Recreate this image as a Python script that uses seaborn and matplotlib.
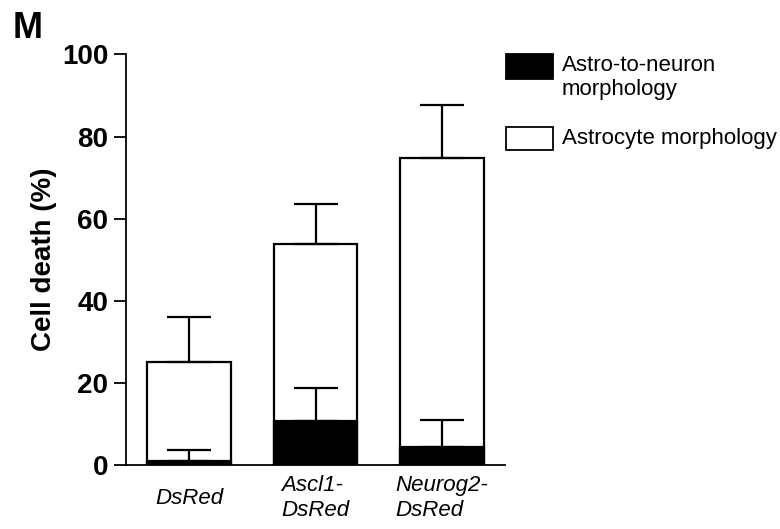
import numpy as np
import pandas as pd
import matplotlib
matplotlib.use("Agg")
import matplotlib.pyplot as plt
from matplotlib.patches import Rectangle
import seaborn as sns

# ---- data ----
groups = ["DsRed", "Ascl1-\nDsRed", "Neurog2-\nDsRed"]
astro_total = [25.1, 53.8, 74.8]        # total cell death (astrocyte morphology bar)
astro_total_err = [10.9, 9.8, 13.0]     # upper error (SEM)
neuron_part = [1.0, 10.7, 4.4]          # astro-to-neuron morphology portion
neuron_part_err = [2.5, 7.9, 6.5]
legend_labels = ["Astro-to-neuron\nmorphology", "Astrocyte morphology"]
yticks = [0, 20, 40, 60, 80, 100]

sns.set_theme(style="white")
plt.rcParams["font.family"] = ["Liberation Sans", "DejaVu Sans"]
plt.rcParams["text.color"] = "black"
plt.rcParams["axes.labelcolor"] = "black"
plt.rcParams["xtick.color"] = "black"
plt.rcParams["ytick.color"] = "black"

W, H = 780, 529
fig = plt.figure(figsize=(W / 100, H / 100), dpi=100)
ax = fig.add_axes([126 / W, 1 - 464.7 / H, (505 - 126) / W, (464.7 - 54.5) / H])

df_total = pd.DataFrame({"group": groups, "value": astro_total})
df_neur = pd.DataFrame({"group": groups, "value": neuron_part})

sns.barplot(data=df_total, x="group", y="value", order=groups, color="white",
            edgecolor="black", linewidth=1.6, width=0.66, errorbar=None, ax=ax,
            saturation=1, zorder=2)
sns.barplot(data=df_neur, x="group", y="value", order=groups, color="black",
            edgecolor="black", linewidth=1.6, width=0.66, errorbar=None, ax=ax,
            saturation=1, zorder=3)

xpos = np.arange(len(groups))
for vals, errs in [(astro_total, astro_total_err), (neuron_part, neuron_part_err)]:
    ax.errorbar(xpos, vals, yerr=[np.zeros(len(vals)), errs], fmt="none",
                ecolor="black", elinewidth=1.6, capsize=15.8, capthick=1.6, zorder=4)

for s in ["top", "right"]:
    ax.spines[s].set_visible(False)
for s in ["left", "bottom"]:
    ax.spines[s].set_linewidth(1.3)
    ax.spines[s].set_color("black")

ax.set_xlim(-0.5, 2.5)
ax.set_ylim(0, 100)
ax.set_yticks(yticks)
ax.set_yticklabels([str(t) for t in yticks], fontsize=20, fontweight="bold")
ax.tick_params(axis="y", length=8.6, width=1.3, color="black", pad=4, left=True)
ax.tick_params(axis="x", length=0, pad=24)
ax.set_xticks(xpos)
ax.set_xticklabels(groups, fontsize=16, fontstyle="italic", multialignment="left",
                   va="center", linespacing=1.25)
ax.set_xlabel("")
ax.set_ylabel("Cell death (%)", fontsize=20, fontweight="bold", labelpad=4)

# panel letter
fig.text(13 / W, 1 - 38 / H, "M", fontsize=26, fontweight="bold", va="baseline", ha="left")

# legend drawn manually
fig.patches.append(Rectangle((506 / W, 1 - 79 / H), 47 / W, 25 / H, transform=fig.transFigure,
                             facecolor="black", edgecolor="black", linewidth=1.3))
fig.patches.append(Rectangle((506 / W, 1 - 150 / H), 47 / W, 23 / H, transform=fig.transFigure,
                             facecolor="white", edgecolor="black", linewidth=1.3))
fig.text(562 / W, 1 - 55 / H, legend_labels[0], fontsize=16, va="top", ha="left", linespacing=1.2)
fig.text(562 / W, 1 - 138.5 / H, legend_labels[1], fontsize=16, va="center", ha="left")

fig.savefig("out.png", dpi=100, facecolor="white")
